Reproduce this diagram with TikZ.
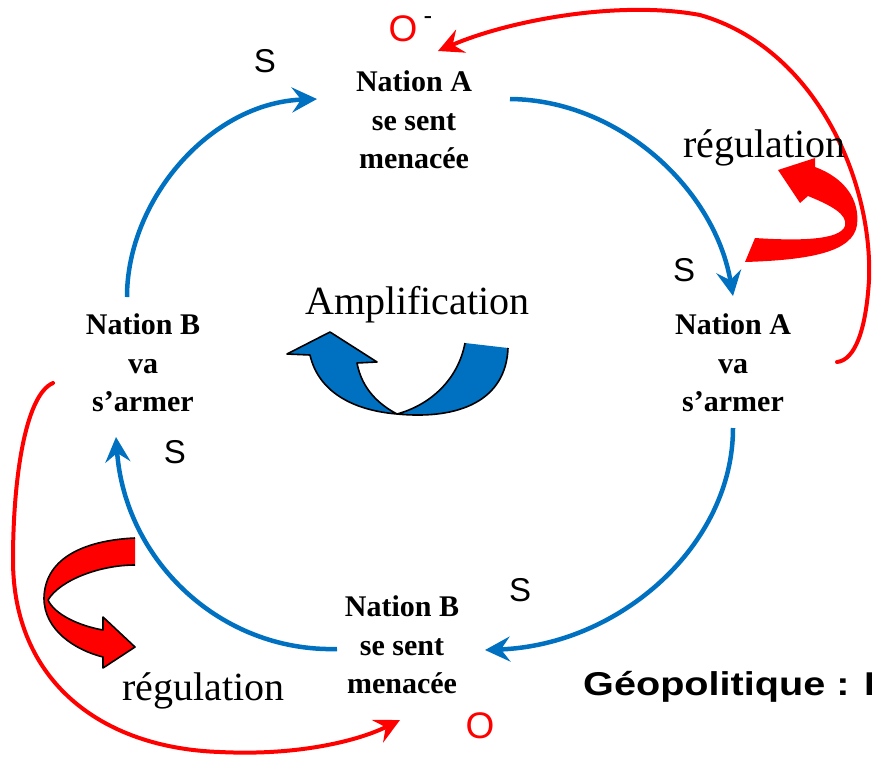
\documentclass[tikz,border=0pt]{standalone}
\usepackage{fontspec}
\setmainfont{Liberation Serif}
\setsansfont{Liberation Sans}
\usetikzlibrary{arrows.meta}

\definecolor{loopblue}{RGB}{0,112,192}
\definecolor{loopred}{RGB}{255,0,0}

\begin{document}
\begin{tikzpicture}[x=1pt,y=-1pt,
  nation/.style={font=\bfseries\fontsize{30}{38.5}\selectfont, align=center, inner sep=0pt},
  sign/.style={font=\sffamily\fontsize{33}{38}\selectfont, inner sep=0pt},
  bigsign/.style={font=\sffamily\fontsize{37}{42}\selectfont, inner sep=0pt, text=loopred},
  caption/.style={font=\fontsize{40}{48}\selectfont, inner sep=0pt, anchor=base west},
  tipshape/.style={-{Stealth[length=25pt,width=25pt,inset=9pt]}},
  link/.style={loopblue, line width=4.5pt, tipshape},
  feedback/.style={loopred, line width=4pt, line cap=round, tipshape},
  ribbonedge/.style={black, line width=1.6pt, line join=round},
]
\useasboundingbox (0,0) rectangle (872,761);
\clip (0,0) rectangle (872,761);

% the four states of the loop
\node[nation] (As) at (414,120) {Nation A\\se sent\\menacée};
\node[nation] (Aa) at (733,363) {Nation A\\va\\s’armer};
\node[nation] (Ba) at (143,363) {Nation B\\va\\s’armer};
\node[nation] (Bs) at (402,645) {Nation B\\se sent\\menacée};

% end points of the links
\coordinate (BaTop) at (127,297);
\coordinate (AsIn)  at (317,99);
\coordinate (AsOut) at (510,99);
\coordinate (AaIn)  at (733,296);
\coordinate (AaBot) at (733,428);
\coordinate (BsIn)  at (485,650);
\coordinate (BsOut) at (337,649);
\coordinate (BaIn)  at (116,437);

% reinforcing links
\draw[link] (BaTop) .. controls (127,200) and (210,103) .. (AsIn);
\draw[link] (AsOut) .. controls (620,100) and (715,190) .. (AaIn);
\draw[link] (AaBot) .. controls (733,545) and (620,645) .. (BsIn);
\draw[link] (BsOut) .. controls (220,652) and (125,560) .. (BaIn);

% link signs
\node[sign] (s1) at (265,61) {S};
\node[sign] (s2) at (684,270) {S};
\node[sign] (s3) at (175,452) {S};
\node[sign] (s4) at (520,590) {S};

% opposite signs of the regulation links
\node[bigsign] (oA) at (403,29) {O};
\node[font=\sffamily\fontsize{26}{30}\selectfont, inner sep=0pt] (oAminus) at (428,21) {-};
\node[bigsign] (oB) at (480,726) {O};

% regulation links
\coordinate (AaRight) at (837,362);
\coordinate (oAIn) at (438,51);
\coordinate (BaLeft) at (53,383);
\coordinate (BsBot) at (400,720);
\draw[feedback] (AaRight) .. controls (855,360) and (866,330) .. (869,280)
  .. controls (873,180) and (815,48) .. (700,15)
  .. controls (620,0) and (510,20) .. (oAIn);
\draw[feedback] (BaLeft) .. controls (25,395) and (13,480) .. (13,560)
  .. controls (13,680) and (100,748) .. (220,752)
  .. controls (300,756) and (360,740) .. (BsBot);

% captions
\node[caption] (amp) at (305,314) {Amplification};
\node[caption] (regA) at (683,157) {régulation};
\node[caption] (regB) at (122,700) {régulation};
\node[font=\sffamily\bfseries\fontsize{33}{38}\selectfont, inner sep=0pt,
      anchor=base west, xscale=1.2] (title) at (583,695) {Géopolitique : L};

% blue curved ribbon arrow
\fill[loopblue] (465,343) -- (508,348) .. controls (506,400) and (460,420) .. (397,414)
  .. controls (350,410) and (318,390) .. (310,355) -- (287,354) -- (330,332)
  -- (377,362) -- (357,363) .. controls (362,390) and (380,405) .. (397,414)
  .. controls (430,405) and (458,380) .. (465,343) -- cycle;
\draw[ribbonedge] (508,348) .. controls (506,400) and (460,420) .. (397,414)
  .. controls (350,410) and (318,390) .. (310,355) -- (287,354) -- (330,332)
  -- (377,362) -- (357,363) .. controls (362,390) and (380,405) .. (397,414)
  .. controls (430,405) and (458,380) .. (465,343);

% red curved arrow, upper right
\fill[loopred] (755,238) .. controls (800,241) and (840,240) .. (845,226)
  .. controls (848,214) and (830,205) .. (808,196) -- (800,203) -- (778,170)
  -- (815,158) -- (815,167) .. controls (845,178) and (860,200) .. (857,225)
  .. controls (853,252) and (810,260) .. (745,262) -- cycle;

% red curved arrow, lower left
\fill[loopred] (135,538) .. controls (90,540) and (45,555) .. (44,598)
  .. controls (44,630) and (75,650) .. (103,657) -- (103,668) -- (135,647)
  -- (103,617) -- (103,630) .. controls (80,626) and (55,615) .. (48,600)
  .. controls (60,580) and (100,565) .. (135,565) -- cycle;
\draw[ribbonedge] (135,538) .. controls (90,540) and (45,555) .. (44,598)
  .. controls (44,630) and (75,650) .. (103,657) -- (103,668) -- (135,647)
  -- (103,617) -- (103,630) .. controls (80,626) and (55,615) .. (48,600)
  .. controls (60,580) and (100,565) .. (135,565);
\end{tikzpicture}
\end{document}
